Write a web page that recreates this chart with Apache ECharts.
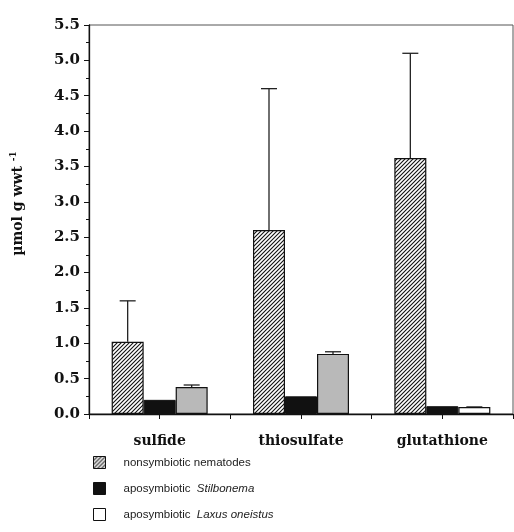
<!DOCTYPE html>
<html>
<head>
<meta charset="utf-8">
<script src="https://cdn.jsdelivr.net/npm/echarts@6/dist/echarts.min.js"></script>
<style>
html, body { margin: 0; padding: 0; background: #fff; }
#chart { width: 514px; height: 532px; }
</style>
</head>
<body>
<div id="chart"></div>
<script>
var categories = ['sulfide', 'thiosulfate', 'glutathione'];
var nonsym = [1.02, 2.6, 3.62];
var nonsymErr = [1.6, 4.6, 5.1];
var stilbonema = [0.2, 0.25, 0.11];
var laxus = [0.38, 0.85, 0.1];
var laxusErr = [0.41, 0.88, 0.1];
var laxusColors = ['#b9b9b9', '#b9b9b9', '#ffffff'];
var yTicks = [0, 5.5, 0.5];

// hatch pattern for nonsymbiotic nematodes
function hatch() {
    var c = document.createElement('canvas');
    c.width = 4; c.height = 4;
    var g = c.getContext('2d');
    g.fillStyle = '#fff';
    g.fillRect(0, 0, 4, 4);
    g.strokeStyle = '#111';
    g.lineWidth = 1.1;
    g.beginPath();
    g.moveTo(-1, 5); g.lineTo(5, -1);
    g.moveTo(-1, 1); g.lineTo(1, -1);
    g.moveTo(3, 5); g.lineTo(5, 3);
    g.stroke();
    return c;
}

var barW = 32;

function errBars(vals, tops, offset) {
    return {
        type: 'custom',
        silent: true,
        z: 1,
        data: tops.map(function (t, i) { return [i, vals[i], t]; }),
        renderItem: function (params, api) {
            var lo = api.coord([api.value(0), api.value(1)]);
            var hi = api.coord([api.value(0), api.value(2)]);
            var x = lo[0] + offset;
            var s = { stroke: '#222', lineWidth: 1.3 };
            return {
                type: 'group',
                children: [
                    { type: 'line', shape: { x1: x, y1: lo[1], x2: x, y2: hi[1] }, style: s },
                    { type: 'line', shape: { x1: x - 8, y1: hi[1], x2: x + 8, y2: hi[1] }, style: s }
                ]
            };
        }
    };
}

var myChart = echarts.init(document.getElementById('chart'));
var serif = '"DejaVu Serif", serif';
var sans = '"Liberation Sans", Arial, sans-serif';

myChart.setOption({
    animation: false,
    grid: { left: 89, right: 1, top: 25, bottom: 118, show: true, borderColor: '#555', borderWidth: 1 },
    legend: {
        orient: 'vertical',
        left: 88,
        top: 451,
        itemWidth: 12,
        itemHeight: 12,
        itemGap: 13,
        icon: 'rect',
        data: ['nonsymbiotic nematodes', 'aposymbiotic Stilbonema', 'aposymbiotic Laxus oneistus'],
        formatter: function (name) {
            if (name.indexOf('aposymbiotic ') === 0) {
                return 'aposymbiotic {i|' + name.slice(13) + '}';
            }
            return name;
        },
        textStyle: {
            fontFamily: sans, fontSize: 11.5, color: '#222', padding: [0, 0, 0, 13],
            rich: { i: { fontFamily: sans, fontSize: 11.5, fontStyle: 'italic', color: '#222', padding: [0, 0, 0, 3] } }
        },
        itemStyle: { borderColor: '#111', borderWidth: 1 }
    },
    xAxis: [{
        type: 'category',
        data: categories,
        axisLine: { lineStyle: { color: '#111', width: 1.3 } },
        axisTick: { show: true, inside: false, length: 5, lineStyle: { color: '#111' } },
        axisLabel: { fontFamily: serif, fontWeight: 'bold', fontSize: 14, color: '#111', margin: 20 }
    }, {
        type: 'category',
        data: categories,
        position: 'bottom',
        axisLine: { show: false },
        axisTick: { show: true, alignWithLabel: true, length: 5, lineStyle: { color: '#111' } },
        axisLabel: { show: false }
    }],
    yAxis: {
        type: 'value',
        min: yTicks[0],
        max: yTicks[1],
        interval: yTicks[2],
        name: 'µmol g wwt {s|-1}',
        nameLocation: 'middle',
        nameGap: 62,
        nameRotate: 90,
        nameTextStyle: {
            fontFamily: serif, fontWeight: 'bold', fontSize: 14, color: '#111', padding: [0, 0, 0, 32],
            rich: { s: { fontFamily: serif, fontWeight: 'bold', fontSize: 9, color: '#111', verticalAlign: 'top', padding: [0, 0, 9, 0] } }
        },
        axisLine: { show: true, lineStyle: { color: '#111', width: 1.3 } },
        axisTick: { show: true, length: 5, lineStyle: { color: '#111' } },
        minorTick: { show: true, splitNumber: 2, length: 3, lineStyle: { color: '#111' } },
        splitLine: { show: false },
        axisLabel: {
            fontFamily: serif, fontWeight: 'bold', fontSize: 15, color: '#111', margin: 9,
            formatter: function (v) { return v.toFixed(1); }
        }
    },
    series: [{
        name: 'nonsymbiotic nematodes',
        type: 'bar',
        barWidth: barW,
        barGap: '0%',
        data: nonsym,
        z: 2,
        itemStyle: { color: { image: hatch(), repeat: 'repeat' }, borderColor: '#111', borderWidth: 1.2 }
    }, {
        name: 'aposymbiotic Stilbonema',
        type: 'bar',
        barWidth: barW,
        barGap: '0%',
        data: stilbonema,
        z: 2,
        itemStyle: { color: '#111', borderColor: '#111', borderWidth: 1 }
    }, {
        name: 'aposymbiotic Laxus oneistus',
        type: 'bar',
        barWidth: barW,
        barGap: '0%',
        z: 2,
        data: laxus.map(function (v, i) { return { value: v, itemStyle: { color: laxusColors[i] } }; }),
        itemStyle: { color: '#fff', borderColor: '#111', borderWidth: 1.2 }
    },
    errBars(nonsym, nonsymErr, -barW),
    errBars(laxus, laxusErr, barW)]
});
</script>
</body>
</html>
